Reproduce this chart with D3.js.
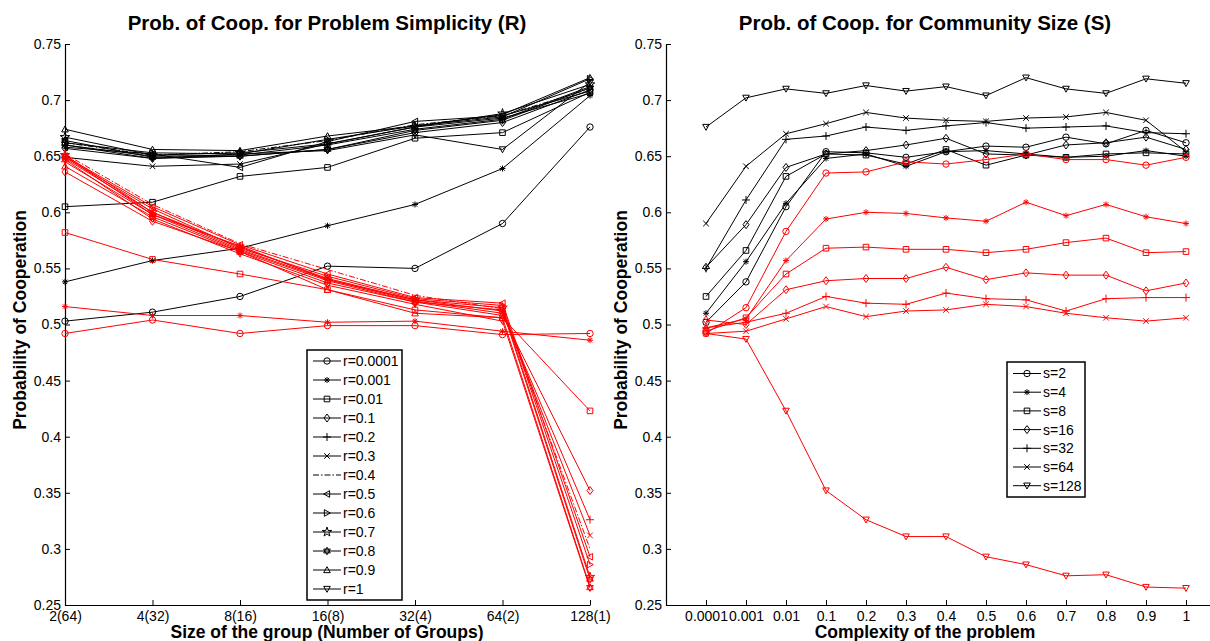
<!DOCTYPE html>
<html>
<head>
<meta charset="utf-8">
<script src="https://cdn.jsdelivr.net/npm/d3@7"></script>
<style>
  body { margin: 0; background: #fff; }
  svg { font-family: "Liberation Sans", Arial, sans-serif; }
  .tick text { font-size: 14px; fill: #000; }
  .domain, .tick line { stroke: #000; }
</style>
</head>
<body>
<div id="chart"></div>
<script>
// ---- data ----
var groupLabels = ["2(64)", "4(32)", "8(16)", "16(8)", "32(4)", "64(2)", "128(1)"];
var complexityLabels = ["0.0001", "0.001", "0.01", "0.1", "0.2", "0.3", "0.4", "0.5", "0.6", "0.7", "0.8", "0.9", "1"];
var yTicks = [0.25, 0.3, 0.35, 0.4, 0.45, 0.5, 0.55, 0.6, 0.65, 0.7, 0.75];

var rNames = ["r=0.0001", "r=0.001", "r=0.01", "r=0.1", "r=0.2", "r=0.3", "r=0.4", "r=0.5", "r=0.6", "r=0.7", "r=0.8", "r=0.9", "r=1"];
var rMarkers = ["o", "*", "s", "d", "+", "x", "none", "<", ">", "p", "h", "^", "v"];
var sNames = ["s=2", "s=4", "s=8", "s=16", "s=32", "s=64", "s=128"];
var sMarkers = ["o", "*", "s", "d", "+", "x", "v"];

// left panel, black lines (one row per r)
var simplicityBlack = [
  [0.503, 0.511, 0.525, 0.552, 0.550, 0.590, 0.676],
  [0.538, 0.557, 0.568, 0.588, 0.607, 0.639, 0.704],
  [0.605, 0.609, 0.632, 0.640, 0.666, 0.671, 0.707],
  [0.657, 0.648, 0.650, 0.656, 0.671, 0.680, 0.709],
  [0.660, 0.650, 0.651, 0.660, 0.674, 0.683, 0.712],
  [0.649, 0.641, 0.643, 0.661, 0.676, 0.684, 0.706],
  [0.662, 0.651, 0.654, 0.664, 0.678, 0.686, 0.710],
  [0.658, 0.652, 0.640, 0.663, 0.681, 0.686, 0.708],
  [0.662, 0.653, 0.652, 0.665, 0.677, 0.685, 0.719],
  [0.667, 0.651, 0.653, 0.661, 0.676, 0.688, 0.714],
  [0.664, 0.649, 0.650, 0.656, 0.673, 0.682, 0.711],
  [0.674, 0.656, 0.655, 0.668, 0.677, 0.687, 0.720],
  [0.660, 0.648, 0.652, 0.655, 0.669, 0.656, 0.716]
];
// left panel, red lines
var simplicityRed = [
  [0.492, 0.504, 0.492, 0.499, 0.499, 0.491, 0.492],
  [0.516, 0.508, 0.508, 0.502, 0.503, 0.494, 0.486],
  [0.582, 0.558, 0.545, 0.531, 0.513, 0.506, 0.423],
  [0.636, 0.592, 0.565, 0.537, 0.520, 0.508, 0.352],
  [0.645, 0.598, 0.570, 0.540, 0.521, 0.510, 0.326],
  [0.648, 0.600, 0.569, 0.541, 0.522, 0.512, 0.312],
  [0.652, 0.607, 0.572, 0.549, 0.526, 0.514, 0.300],
  [0.650, 0.605, 0.571, 0.545, 0.524, 0.519, 0.293],
  [0.649, 0.603, 0.568, 0.543, 0.523, 0.517, 0.286],
  [0.651, 0.600, 0.567, 0.540, 0.522, 0.515, 0.275],
  [0.650, 0.598, 0.566, 0.539, 0.520, 0.513, 0.273],
  [0.641, 0.596, 0.565, 0.531, 0.510, 0.506, 0.266],
  [0.647, 0.594, 0.563, 0.535, 0.518, 0.503, 0.265]
];
// right panel, black lines (one row per s)
var communityBlack = [
  [0.502, 0.538, 0.605, 0.654, 0.653, 0.649, 0.654, 0.659, 0.658, 0.667, 0.661, 0.673, 0.662],
  [0.510, 0.556, 0.608, 0.648, 0.652, 0.641, 0.654, 0.655, 0.652, 0.649, 0.650, 0.655, 0.650],
  [0.525, 0.566, 0.632, 0.652, 0.651, 0.643, 0.656, 0.642, 0.651, 0.649, 0.652, 0.653, 0.652],
  [0.551, 0.589, 0.640, 0.652, 0.655, 0.660, 0.666, 0.652, 0.651, 0.660, 0.662, 0.667, 0.656],
  [0.550, 0.611, 0.665, 0.668, 0.676, 0.673, 0.677, 0.680, 0.675, 0.676, 0.677, 0.671, 0.670],
  [0.590, 0.641, 0.670, 0.679, 0.689, 0.684, 0.682, 0.681, 0.684, 0.685, 0.689, 0.682, 0.654],
  [0.676, 0.702, 0.710, 0.706, 0.713, 0.708, 0.712, 0.704, 0.720, 0.710, 0.706, 0.719, 0.715]
];
// right panel, red lines
var communityRed = [
  [0.492, 0.515, 0.583, 0.635, 0.636, 0.645, 0.643, 0.647, 0.652, 0.647, 0.647, 0.642, 0.649],
  [0.497, 0.505, 0.557, 0.594, 0.600, 0.599, 0.595, 0.592, 0.609, 0.597, 0.607, 0.596, 0.590],
  [0.494, 0.506, 0.545, 0.568, 0.569, 0.567, 0.567, 0.564, 0.567, 0.573, 0.577, 0.564, 0.565],
  [0.504, 0.500, 0.531, 0.539, 0.541, 0.541, 0.551, 0.540, 0.546, 0.544, 0.544, 0.530, 0.537],
  [0.497, 0.502, 0.510, 0.525, 0.519, 0.518, 0.528, 0.523, 0.522, 0.512, 0.523, 0.524, 0.524],
  [0.492, 0.494, 0.505, 0.516, 0.507, 0.512, 0.513, 0.518, 0.516, 0.510, 0.506, 0.503, 0.506],
  [0.492, 0.487, 0.423, 0.352, 0.326, 0.311, 0.311, 0.293, 0.286, 0.276, 0.277, 0.266, 0.265]
];

var W = 1210, H = 641;
var svg = d3.select("#chart").append("svg").attr("width", W).attr("height", H);

// MATLAB-like marker paths, centred on 0,0
function markerPath(m) {
  var p = d3.path();
  var a = 3.3;
  switch (m) {
    case "o": p.arc(0, 0, 3.2, 0, 2 * Math.PI); break;
    case "s": p.rect(-2.8, -2.8, 5.6, 5.6); break;
    case "d": p.moveTo(0, -4); p.lineTo(3, 0); p.lineTo(0, 4); p.lineTo(-3, 0); p.closePath(); break;
    case "+": p.moveTo(-4, 0); p.lineTo(4, 0); p.moveTo(0, -4); p.lineTo(0, 4); break;
    case "x": p.moveTo(-2.8, -2.8); p.lineTo(2.8, 2.8); p.moveTo(-2.8, 2.8); p.lineTo(2.8, -2.8); break;
    case "*": p.moveTo(-3, 0); p.lineTo(3, 0); p.moveTo(0, -3); p.lineTo(0, 3);
              p.moveTo(-2.2, -2.2); p.lineTo(2.2, 2.2); p.moveTo(-2.2, 2.2); p.lineTo(2.2, -2.2); break;
    case "^": p.moveTo(0, -a); p.lineTo(a, a * 0.8); p.lineTo(-a, a * 0.8); p.closePath(); break;
    case "v": p.moveTo(0, a); p.lineTo(a, -a * 0.8); p.lineTo(-a, -a * 0.8); p.closePath(); break;
    case "<": p.moveTo(-a, 0); p.lineTo(a * 0.8, -a); p.lineTo(a * 0.8, a); p.closePath(); break;
    case ">": p.moveTo(a, 0); p.lineTo(-a * 0.8, -a); p.lineTo(-a * 0.8, a); p.closePath(); break;
    case "p": return d3.symbol(d3.symbolStar, 28)();
    case "h":
      p.moveTo(0, -3.8); p.lineTo(3.3, 1.9); p.lineTo(-3.3, 1.9); p.closePath();
      p.moveTo(0, 3.8); p.lineTo(3.3, -1.9); p.lineTo(-3.3, -1.9); p.closePath(); break;
    default: return "";
  }
  return p.toString();
}

function drawPanel(opt) {
  var g = svg.append("g");
  var y = d3.scaleLinear().domain([0.25, 0.75]).range([605, 44]);
  var x = opt.x;

  var yAxis = d3.axisLeft(y).tickValues(yTicks).tickSizeInner(-5).tickSizeOuter(0).tickPadding(4)
    .tickFormat(function (d) { return d3.format("")(+d.toFixed(2)); });
  g.append("g").attr("transform", "translate(" + x.range()[0] + ",0)").call(yAxis);

  var xAxis = d3.axisBottom(x).tickValues(opt.tickVals).tickSizeInner(-5).tickSizeOuter(0).tickPadding(6)
    .tickFormat(function (d, i) { return opt.labels[i]; });
  g.append("g").attr("transform", "translate(0,605)").call(xAxis);
  g.selectAll(".domain").attr("stroke-width", 1.2);

  function series(rows, markers, color) {
    rows.forEach(function (row, k) {
      var pts = row.map(function (v, i) { return [x(opt.tickVals[i]), y(v)]; });
      g.append("path")
        .attr("d", d3.line()(pts))
        .attr("fill", "none").attr("stroke", color).attr("stroke-width", 1)
        .attr("stroke-dasharray", markers[k] === "none" ? "6,2,1.5,2" : null);
      g.selectAll(null).data(pts).enter().append("path")
        .attr("transform", function (d) { return "translate(" + d[0] + "," + d[1] + ")"; })
        .attr("d", markerPath(markers[k]))
        .attr("fill", "none").attr("stroke", color).attr("stroke-width", 1);
    });
  }
  series(opt.black, opt.markers, "#000");
  series(opt.red, opt.markers, "#ff0000");

  // legend
  var lg = g.append("g");
  lg.append("rect").attr("x", opt.legend.x).attr("y", opt.legend.y)
    .attr("width", opt.legend.w).attr("height", opt.legend.h)
    .attr("fill", "#fff").attr("stroke", "#000").attr("stroke-width", 1.5);
  opt.names.forEach(function (name, k) {
    var cy = opt.legend.y + opt.legend.first + k * opt.legend.step;
    var x0 = opt.legend.x + 6;
    lg.append("line").attr("x1", x0).attr("x2", x0 + 28).attr("y1", cy).attr("y2", cy)
      .attr("stroke", "#000").attr("stroke-width", 1)
      .attr("stroke-dasharray", opt.markers[k] === "none" ? "6,2,1.5,2" : null);
    lg.append("path").attr("transform", "translate(" + (x0 + 14) + "," + cy + ")")
      .attr("d", markerPath(opt.markers[k]))
      .attr("fill", "none").attr("stroke", "#000").attr("stroke-width", 1);
    lg.append("text").attr("x", x0 + 30).attr("y", cy).attr("dy", "0.35em")
      .attr("font-size", 14).text(name);
  });

  // titles
  g.append("text").attr("x", opt.cx).attr("y", 30).attr("text-anchor", "middle")
    .attr("font-size", 20.5).attr("font-weight", "bold").text(opt.title);
  g.append("text").attr("x", opt.cx).attr("y", 638).attr("text-anchor", "middle")
    .attr("font-size", 17.5).attr("font-weight", "bold").text(opt.xTitle);
  g.append("text").attr("transform", "translate(" + opt.yTitleX + ",320) rotate(-90)")
    .attr("text-anchor", "middle").attr("font-size", 17.5).attr("font-weight", "bold")
    .text("Probability of Cooperation");
}

var leftIdx = d3.range(groupLabels.length);
drawPanel({
  x: d3.scaleLinear().domain([0, 6]).range([65, 590]),
  tickVals: leftIdx,
  labels: groupLabels,
  black: simplicityBlack, red: simplicityRed,
  markers: rMarkers, names: rNames,
  legend: { x: 307, y: 350, w: 95, h: 250, first: 11, step: 19 },
  cx: 327, yTitleX: 26,
  title: "Prob. of Coop. for Problem Simplicity (R)",
  xTitle: "Size of the group (Number of Groups)"
});

var rightIdx = d3.range(1, complexityLabels.length + 1);
drawPanel({
  x: d3.scaleLinear().domain([0, 14]).range([666, 1226]),
  tickVals: rightIdx,
  labels: complexityLabels,
  black: communityBlack, red: communityRed,
  markers: sMarkers, names: sNames,
  legend: { x: 1007, y: 362, w: 78, h: 135, first: 11.5, step: 18.7 },
  cx: 925, yTitleX: 627,
  title: "Prob. of Coop. for Community Size (S)",
  xTitle: "Complexity of the problem"
});
</script>
</body>
</html>
